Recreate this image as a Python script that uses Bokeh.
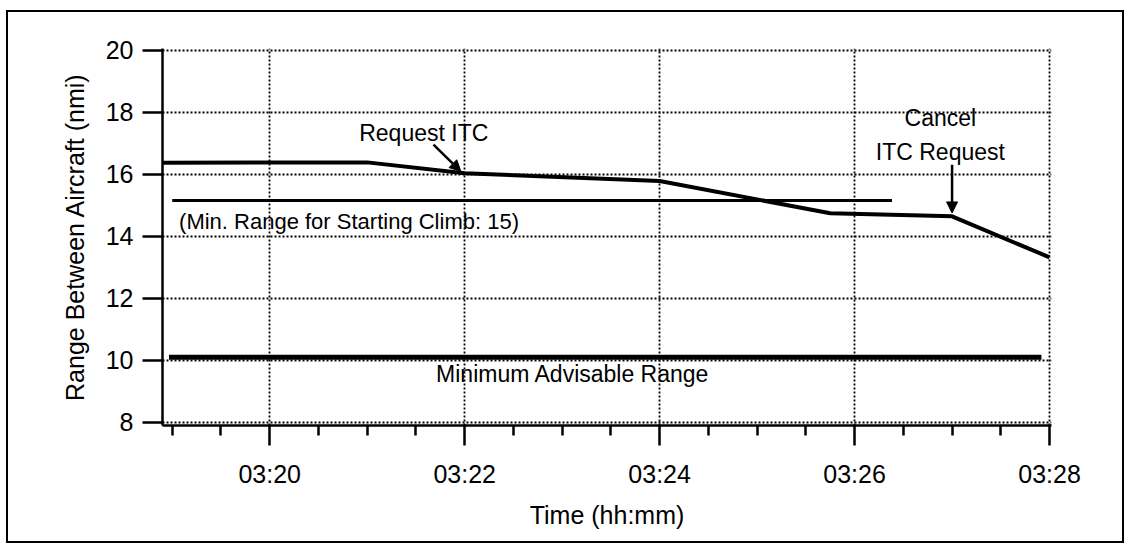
from bokeh.plotting import figure
from bokeh.models import FixedTicker, Arrow, NormalHead, Label, Range1d
from bokeh.embed import file_html
from bokeh.resources import INLINE

FONT = "Liberation Sans"

# ---- data ----
times = ["03:18:54", "03:21:00", "03:22:00", "03:24:00", "03:25:45", "03:27:00", "03:28:00"]
ranges_nmi = [16.37, 16.38, 16.03, 15.78, 14.74, 14.64, 13.32]

min_climb_times = ["03:19:00", "03:26:23"]
min_climb_vals = [15.15, 15.15]

min_adv_times = ["03:18:58", "03:27:55"]
min_adv_vals = [10.1, 10.1]

x_tick_labels = ["03:20", "03:22", "03:24", "03:26", "03:28"]
x_minor_labels = ["03:19:00", "03:19:30", "03:20:30", "03:21:00", "03:21:30", "03:22:30",
                  "03:23:00", "03:23:30", "03:24:30", "03:25:00", "03:25:30", "03:26:30",
                  "03:27:00", "03:27:30"]
y_ticks = [8, 10, 12, 14, 16, 18, 20]


def to_min(s):
    parts = [int(v) for v in s.split(":")]
    h, m = parts[0], parts[1]
    sec = parts[2] if len(parts) > 2 else 0
    return h * 60 + m + sec / 60.0 - 180.0


x = [to_min(t) for t in times]
x_ticks = [to_min(t) for t in x_tick_labels]
x_minor = [to_min(t) for t in x_minor_labels]

p = figure(width=1118, height=533, output_backend="svg", toolbar_location=None,
           x_range=Range1d(18.9, 28.02), y_range=Range1d(7.9, 20.05),
           min_border_left=154, min_border_right=75, min_border_top=36, min_border_bottom=120,
           background_fill_color="white", border_fill_color="white",
           styles={"border": "2px solid black", "margin-left": "6px", "margin-top": "10px"})
p.outline_line_color = None

# axes
p.xaxis.ticker = FixedTicker(ticks=x_ticks, minor_ticks=x_minor)
p.xaxis.major_label_overrides = {t: lab for t, lab in zip(x_ticks, x_tick_labels)}
p.yaxis.ticker = FixedTicker(ticks=y_ticks, minor_ticks=[])
p.yaxis.major_label_overrides = {t: str(t) for t in y_ticks}

for ax in (p.xaxis[0], p.yaxis[0]):
    ax.axis_line_width = 2.5
    ax.axis_line_color = "black"
    ax.major_tick_line_width = 2.5
    ax.major_tick_line_color = "black"
    ax.minor_tick_line_width = 2.5
    ax.minor_tick_line_color = "black"
    ax.major_label_text_font = FONT
    ax.major_label_text_font_size = "25px"
    ax.major_label_text_color = "black"
    ax.axis_label_text_font = FONT
    ax.axis_label_text_font_style = "normal"
    ax.axis_label_text_color = "black"
    ax.axis_label_text_font_size = "25px"

p.xaxis.major_tick_out = 20
p.xaxis.major_tick_in = 0
p.xaxis.minor_tick_out = 10
p.xaxis.minor_tick_in = 0
p.xaxis.major_label_standoff = 14
p.xaxis.axis_label = "Time (hh:mm)"
p.xaxis.axis_label_standoff = 10

p.yaxis.major_tick_out = 20
p.yaxis.major_tick_in = 0
p.yaxis.minor_tick_out = 0
p.yaxis.minor_tick_in = 0
p.yaxis.major_label_standoff = 9
p.yaxis.axis_label = "Range Between Aircraft (nmi)"
p.yaxis.axis_label_standoff = 14

# grid
for g in (p.xgrid[0], p.ygrid[0]):
    g.grid_line_color = "black"
    g.grid_line_width = 1.8
    g.grid_line_dash = "2 2"

# lines
p.line([to_min(t) for t in min_adv_times], min_adv_vals, line_color="black", line_width=5)
p.line([to_min(t) for t in min_climb_times], min_climb_vals, line_color="black", line_width=3)
p.line(x, ranges_nmi, line_color="black", line_width=4)


# annotations
def label(xv, yv, txt, size="23px", align="center"):
    p.add_layout(Label(x=xv, y=yv, text=txt, text_font=FONT, text_font_size=size,
                       text_color="black", text_align=align, text_baseline="middle"))


label(21.58, 17.33, "Request ITC")
label(26.88, 17.8, "Cancel")
label(26.88, 16.7, "ITC Request")
label(19.07, 14.46, "(Min. Range for Starting Climb: 15)", size="22px", align="left")
label(23.11, 9.55, "Minimum Advisable Range")

p.add_layout(Arrow(x_start=21.68, y_start=16.95, x_end=21.96, y_end=16.09,
                   line_width=2.5, line_color="black",
                   end=NormalHead(size=11, fill_color="black", line_color="black")))
p.add_layout(Arrow(x_start=27.0, y_start=16.3, x_end=27.0, y_end=14.75,
                   line_width=2.5, line_color="black",
                   end=NormalHead(size=11, fill_color="black", line_color="black")))

open("out.html", "w").write(file_html(p, INLINE))
